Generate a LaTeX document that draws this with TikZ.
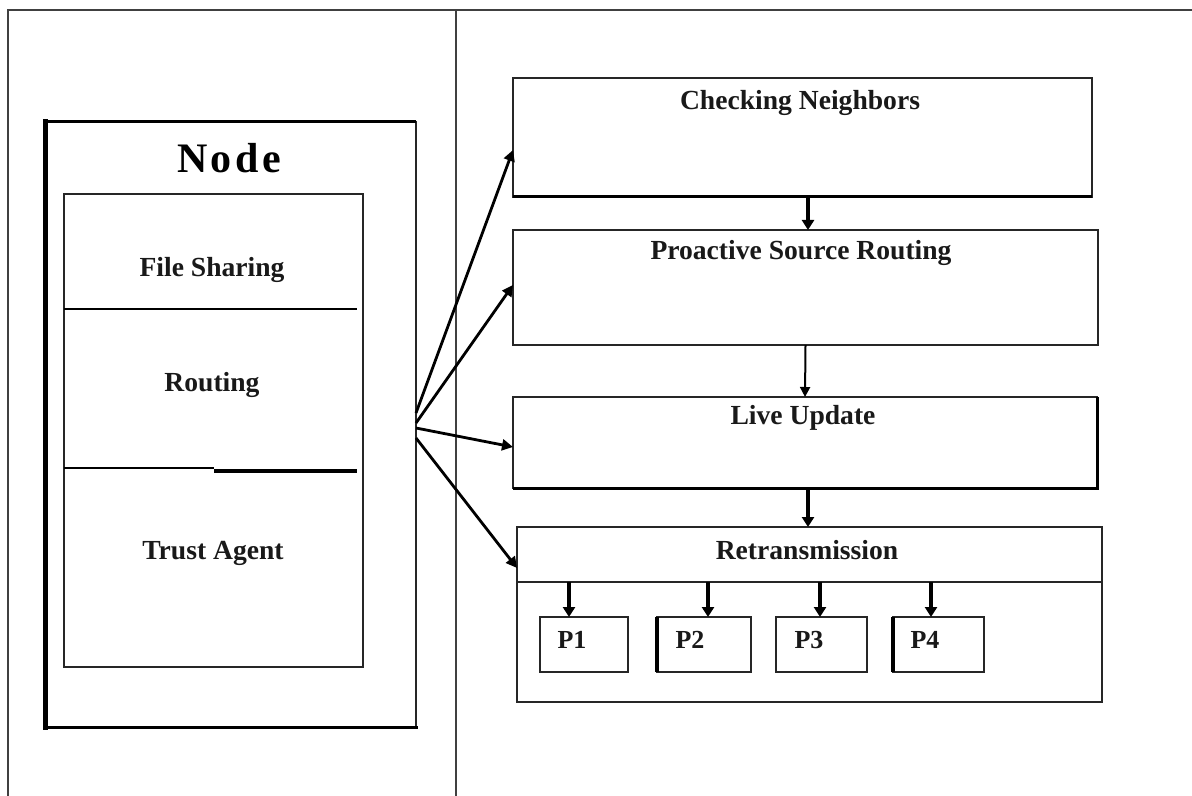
\documentclass[tikz,border=0pt]{standalone}
\usepackage{fontspec}
\setmainfont{Liberation Serif}
\usetikzlibrary{arrows.meta,fit}
\begin{document}
\begin{tikzpicture}[x=0.5pt,y=-0.5pt,
  frame/.style={draw=black!75,line width=0.8pt},
  box/.style={draw=black!85,line width=1pt,inner sep=0pt,outer sep=0pt},
  lbl/.style={font=\fontsize{13.8}{16}\selectfont\bfseries,inner sep=0pt,text=black!90},
  plbl/.style={font=\fontsize{13}{15}\selectfont\bfseries,inner sep=0pt,text=black!90},
  arr/.style={line width=1.4pt,-{Triangle[length=5.5pt,width=5.5pt]}},
  varr/.style={line width=2pt,-{Triangle[length=5pt,width=6pt]}},
  tarr/.style={line width=1pt,-{Triangle[length=5pt,width=5pt]}},
  parr/.style={line width=1.8pt,-{Triangle[length=5pt,width=6pt]}}]
\useasboundingbox (0,0) rectangle (1192,796);
\fill[white] (0,0) rectangle (1192,796);
% outer frame
\coordinate (ftl) at (8,10);
\coordinate (ftr) at (1192,10);
\coordinate (fbl) at (8,796);
\coordinate (dvt) at (456,10);
\coordinate (dvb) at (456,796);
\draw[frame] (fbl) -- (ftl) -- (ftr);
\draw[frame] (dvt) -- (dvb);
% node box
\node[fit={(45,122)(416,727)},box] (nb) {};
\draw[line width=2.5pt,line cap=rect] (nb.north west) -- (nb.south west);
\draw[line width=1.5pt,line cap=rect] (nb.south west) -- (nb.south east);
\draw[line width=1.5pt] (nb.north west) -- (nb.north east);
\node[font=\fontsize{21}{24}\selectfont\bfseries\addfontfeature{LetterSpace=8},inner sep=0pt] (nodet) at (229,158) {Node};
% inner box
\node[fit={(64,194)(363,667)},box,line width=0.8pt] (ib) {};
\coordinate (d1a) at (64,309);
\coordinate (d1b) at (357,309);
\draw[line width=1.2pt] (d1a) -- (d1b);
\coordinate (d2a) at (64,468);
\coordinate (d2m) at (214,468);
\coordinate (d2n) at (214,471);
\coordinate (d2b) at (357,471);
\draw[line width=0.7pt] (d2a) -- (d2m);
\draw[line width=2pt] (d2n) -- (d2b);
\node[lbl] (fs) at (212,270) {File Sharing};
\node[lbl] (ro) at (212,385) {Routing};
\node[lbl] (ta) at (213,553) {Trust Agent};
% right boxes
\node[fit={(513,78)(1092,197)},box] (cn) {};
\draw[line width=1.5pt] (cn.south west) -- (cn.south east);
\node[lbl] (cnt) at (800,103) {Checking Neighbors};
\node[fit={(513,230)(1098,345)},box] (psr) {};
\node[lbl] (psrt) at (801,253) {Proactive Source Routing};
\node[fit={(513,397)(1097,488)},box] (lu) {};
\draw[line width=1.5pt] (lu.south west) -- (lu.south east) -- (lu.north east);
\node[lbl] (lut) at (803,418) {Live Update};
\node[fit={(517,527)(1102,702)},box,line width=0.9pt] (rt) {};
\node[lbl] (rtt) at (807,550) {Retransmission};
\coordinate (rdl) at (517,582);
\coordinate (rdr) at (1102,582);
\draw[line width=0.9pt,draw=black!85] (rdl) -- (rdr);
% P boxes
\node[fit={(540,617)(628,672)},box,line width=0.9pt] (p1) {};
\node[fit={(657,617)(751,672)},box,line width=0.9pt] (p2) {};
\node[fit={(776,617)(867,672)},box,line width=0.9pt] (p3) {};
\node[fit={(893,617)(984,672)},box,line width=0.9pt] (p4) {};
\draw[line width=2pt] (p2.north west) -- (p2.south west);
\draw[line width=2pt] (p4.north west) -- (p4.south west);
\node[plbl] (p1t) at (572,640) {P1};
\node[plbl] (p2t) at (690,640) {P2};
\node[plbl] (p3t) at (809,640) {P3};
\node[plbl] (p4t) at (925,640) {P4};
% arrows from node box
\draw[arr] ([yshift=5.75pt]nb.east) -- ([yshift=-6.25pt]cn.west);
\draw[arr] ([yshift=0.75pt]nb.east) -- ([yshift=1.25pt]psr.west);
\draw[arr] ([yshift=-1.75pt]nb.east) -- ([yshift=-2.25pt]lu.west);
\draw[arr] ([yshift=-6.75pt]nb.east) -- ([yshift=23.25pt]rt.west);
% vertical arrows
\draw[varr] ([xshift=2.75pt]cn.south) -- ([xshift=1.25pt]psr.north);
\draw[tarr] (psr.south) -- (lu.north);
\draw[varr] ([xshift=1.5pt]lu.south) -- ([xshift=-0.75pt]rt.north);
% P arrows
\coordinate (a1) at (569,582);
\coordinate (a2) at (708,582);
\coordinate (a3) at (820,582);
\coordinate (a4) at (931,582);
\draw[parr] (a1) -- (a1 |- p1.north);
\draw[parr] (a2) -- (a2 |- p2.north);
\draw[parr] (a3) -- (a3 |- p3.north);
\draw[parr] (a4) -- (a4 |- p4.north);
\end{tikzpicture}
\end{document}
